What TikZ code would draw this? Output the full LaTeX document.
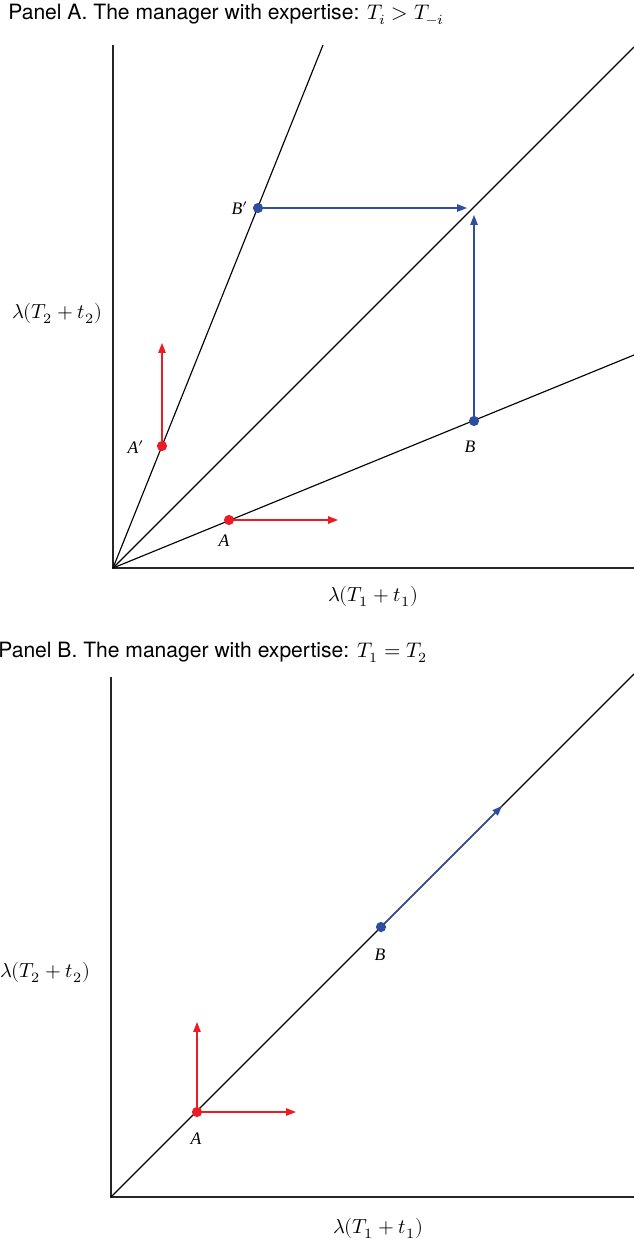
\documentclass[tikz,border=0pt]{standalone}
\usepackage{amsmath}
\usepackage{fontspec}
\setmainfont{TeX Gyre Heros}
\newfontfamily\ptfont{Liberation Serif}
\usepackage{unicode-math}
\setmathfont{Latin Modern Math}
\usetikzlibrary{
  arrows.meta,              % Triangle 箭头
  positioning               % 节点相对定位
}
\definecolor{ptred}{RGB}{236,28,36}
\definecolor{ptblue}{RGB}{46,78,160}
\tikzset{
  axisline/.style={line width=0.75pt, black!85},
  rayline/.style={line width=0.65pt, black},
  dotpt/.style={circle, inner sep=0pt, minimum size=5.8pt},
  moveto/.style={line width=0.75pt, -{Triangle[length=5.6pt,width=4.2pt]}},
  ptlabel/.style={font=\ptfont\itshape\fontsize{10}{12}\selectfont, inner sep=0pt},
  axlabel/.style={font=\fontsize{11.6}{13}\selectfont, inner sep=0pt},
  paneltitle/.style={font=\fontsize{12}{14}\selectfont, inner sep=0pt, anchor=west}
}

\begin{document}
\begin{tikzpicture}[x=0.02cm, y=-0.02cm]
  \useasboundingbox (0,0) rectangle (634,1243);

  % ---------------- 面板 A ----------------
  \node[paneltitle] (titleA) at (8,14) {Panel A. The manager with expertise: $T_i > T_{-i}$};

  % 坐标轴
  \coordinate (OA) at (113,568);
  \coordinate (yA) at (113,45);
  \coordinate (xA) at (634,568);
  \draw[axisline] (yA) -- (OA) -- (xA);
  \node[axlabel] (ylabA) at (57,313) {$\lambda(T_2 + t_2)$};
  \node[axlabel] (xlabA) at (373,596) {$\lambda(T_1 + t_1)$};

  % 三条射线
  \coordinate (steepA) at (323,45);
  \coordinate (diagA) at (634,47);
  \coordinate (flatA) at (634,355);
  \draw[rayline] (OA) -- (steepA);
  \draw[rayline] (OA) -- (diagA);
  \draw[rayline] (OA) -- (flatA);

  % 红色点 A, A'
  \node[dotpt, fill=ptred] (A) at (229,520) {};
  \node[dotpt, fill=ptred] (Ap) at (162,446) {};
  \coordinate (Aend) at (338,520);
  \coordinate (Apend) at (162,343);
  \draw[moveto, ptred] (A) -- (Aend);
  \draw[moveto, ptred] (Ap) -- (Apend);
  \node[ptlabel] (Alab) at (224,541) {A};
  \node[ptlabel] (Aplab) at (136,447) {A$'$};

  % 蓝色点 B, B'
  \node[dotpt, fill=ptblue] (B) at (474,421) {};
  \node[dotpt, fill=ptblue] (Bp) at (258,208) {};
  \coordinate (Bend) at (474,215);
  \coordinate (Bpend) at (467,208);
  \draw[moveto, ptblue] (B) -- (Bend);
  \draw[moveto, ptblue] (Bp) -- (Bpend);
  \node[ptlabel] (Blab) at (470,447) {B};
  \node[ptlabel] (Bplab) at (240,208) {B$'$};

  % ---------------- 面板 B ----------------
  \node[paneltitle] (titleB) at (-2,652) {Panel B. The manager with expertise: $T_1 = T_2$};

  % 坐标轴
  \coordinate (OB) at (111,1197);
  \coordinate (yB) at (111,677);
  \coordinate (xB) at (634,1197);
  \draw[axisline] (yB) -- (OB) -- (xB);
  \node[axlabel] (ylabB) at (45,972) {$\lambda(T_2 + t_2)$};
  \node[axlabel] (xlabB) at (378,1228) {$\lambda(T_1 + t_1)$};

  % 45 度线
  \coordinate (diagB) at (634,674);
  \draw[rayline] (OB) -- (diagB);

  % 红色点 A
  \node[dotpt, fill=ptred] (AB) at (197,1112) {};
  \coordinate (ABup) at (197,1022);
  \coordinate (ABright) at (296,1112);
  \draw[moveto, ptred] (AB) -- (ABup);
  \draw[moveto, ptred] (AB) -- (ABright);
  \node[ptlabel] (ABlab) at (196,1139) {A};

  % 蓝色点 B（沿 45 度线）
  \node[dotpt, fill=ptblue] (BB) at (381,927) {};
  \coordinate (BBend) at (502,806);
  \draw[moveto, ptblue] (BB) -- (BBend);
  \node[ptlabel] (BBlab) at (380,955) {B};
\end{tikzpicture}
\end{document}
